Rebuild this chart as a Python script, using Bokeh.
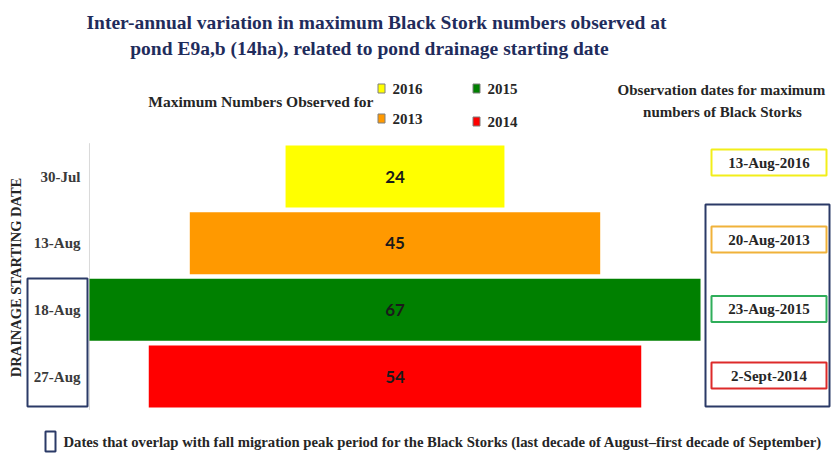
import math
from bokeh.plotting import figure
from bokeh.models import Range1d, Label, BoxAnnotation, ColumnDataSource
from bokeh.core.properties import value
from bokeh.embed import file_html
from bokeh.resources import INLINE

# ---- data ----
drain_dates = ["30-Jul", "13-Aug", "18-Aug", "27-Aug"]
max_numbers = [24, 45, 67, 54]
years = ["2016", "2013", "2015", "2014"]
bar_colors = ["#FFFF00", "#FF9900", "#008000", "#FF0000"]
obs_dates = ["13-Aug-2016", "20-Aug-2013", "23-Aug-2015", "2-Sept-2014"]
obs_border_colors = ["#F2EE1A", "#F0B23A", "#2FAE5A", "#DD2A2A"]

# ---- layout constants (pixels) ----
W, H = 831, 455
PX_PER_UNIT = 9.12        # horizontal pixels per bird
X_CENTER = 394.5          # pixel column of bar centres
BAND = 66.67              # pixels per drainage-date band
Y_TOP_BAND = 176          # pixel row of the first band centre
SERIF = "Liberation Serif"
NAVY = "#1F2C5C"
BOXNAVY = "#2B3A67"
TXT = "#262626"

n = len(drain_dates)
# numeric band position of each category (first category on top)
ypos = [n - i - 0.5 for i in range(n)]
y_at_top = ypos[0] + Y_TOP_BAND / BAND
y_at_bottom = ypos[0] - (H - Y_TOP_BAND) / BAND

src = ColumnDataSource(dict(
    date=drain_dates,
    y=ypos,
    left=[-v / 2 for v in max_numbers],
    right=[v / 2 for v in max_numbers],
    color=bar_colors,
    txt=[str(v) for v in max_numbers],
    zero=[0] * n,
))

x0 = -X_CENTER / PX_PER_UNIT
x1 = (W - X_CENTER) / PX_PER_UNIT
p = figure(width=W, height=H, output_backend="svg", toolbar_location=None,
           x_range=Range1d(x0, x1), y_range=Range1d(y_at_bottom, y_at_top),
           x_axis_location=None, y_axis_location=None,
           min_border=0, min_border_left=0, min_border_right=0,
           min_border_top=0, min_border_bottom=0)
p.outline_line_color = None
p.grid.visible = False
p.background_fill_color = "white"
p.border_fill_color = "white"

# category axis (line + labels)
half_max = max(max_numbers) / 2
p.segment(x0=[-half_max], y0=[0], x1=[-half_max], y1=[n], line_color="#D9D9D9",
          line_width=1)
p.hbar(y="y", left="left", right="right", height=0.93, fill_color="color",
       line_color=None, source=src)
p.text(x="zero", y="y", text="txt", source=src, text_align="center",
       text_baseline="middle", text_font=value("Lato"), text_font_style="bold",
       text_font_size="17px", text_color="#1a1a1a")
p.text(x=[x0] * n, y=ypos, text=drain_dates, x_offset=80, text_align="right",
       text_baseline="middle", text_font=value(SERIF), text_font_style="bold",
       text_font_size="15px", text_color="#3A3A3A")


def lab(text, X, Y, size, align="left", color=TXT, angle=0.0):
    p.add_layout(Label(x=X, y=H - Y, x_units="screen", y_units="screen",
                       text=text, text_align=align, text_baseline="middle",
                       text_font=SERIF, text_font_style="bold", angle=angle,
                       text_font_size=size, text_color=color))


def box(X0, Y0, X1, Y1, color, width=2, fill=None):
    p.add_layout(BoxAnnotation(left=X0, right=X1, top=H - Y0, bottom=H - Y1,
                               left_units="screen", right_units="screen",
                               top_units="screen", bottom_units="screen",
                               fill_color=fill if fill else "white",
                               fill_alpha=1.0 if fill else 0.0,
                               line_color=color, line_width=width, line_alpha=1.0))


# axis title
lab("DRAINAGE STARTING DATE", 15, 277, "14.5px", "center", TXT, math.pi / 2)

# title
lab("Inter-annual variation in maximum Black Stork numbers observed at", 376, 22,
    "19.5px", "center", NAVY)
lab("pond E9a,b (14ha), related to pond drainage starting date", 369, 48,
    "19.5px", "center", NAVY)

# legend
lab("Maximum Numbers Observed for", 373, 101, "15.5px", "right")
leg_pos = [(381, 88, 392), (381, 118, 392), (476, 88, 487), (476, 121, 487)]
for (X, Y, TX), yr, c in zip(leg_pos, years, bar_colors):
    box(X - 3.5, Y - 4.5, X + 3.5, Y + 4.5, "#7F7F7F", 1, c)
    lab(yr, TX, Y, "15px", "left")

# observation dates column
lab("Observation dates for maximum", 721, 89, "15px", "center")
lab("numbers of Black Storks", 722, 111, "15px", "center")
box(705, 204, 829, 406, BOXNAVY, 2)
obs_y = [162, 239, 308.5, 375]
for Y, t, c in zip(obs_y, obs_dates, obs_border_colors):
    box(711, Y - 13, 826, Y + 13, c, 2, "white")
    lab(t, 768.5, Y, "15px", "center")

# left box around overlapping drainage dates
box(27, 278, 87, 406, BOXNAVY, 2)

# footer
box(45, 431, 55, 451, BOXNAVY, 2)
lab("Dates that overlap with fall migration  peak period  for the Black Storks "
    "(last decade of August\u2013first  decade of September)", 63, 441, "14.7px", "left")

open("out.html", "w").write(file_html(p, INLINE))
